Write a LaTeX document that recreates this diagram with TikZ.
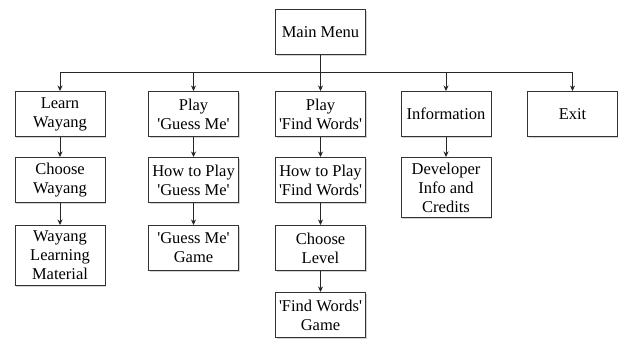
\documentclass[tikz,border=0pt]{standalone}
\usepackage{fontspec}
\setmainfont{Liberation Serif}
\newfontfamily\boxfont{Liberation Serif}
\usetikzlibrary{arrows.meta,shadows}
\newcommand{\sq}{\textquotesingle}
\begin{document}
\begin{tikzpicture}[x=1pt,y=1pt,
  box/.style={draw=black!80, line width=0.9pt, fill=white, minimum width=90pt, minimum height=45pt,
    align=center, inner sep=1pt, anchor=north,
    font=\boxfont\fontsize{16.5}{19}\selectfont,
    drop shadow={shadow xshift=1.2pt, shadow yshift=-1.2pt, opacity=0.35, fill=black!50}},
  tall/.style={minimum height=60pt},
  conn/.style={draw=black!85, line width=0.8pt},
  arr/.style={conn, -{Stealth[length=5.5pt,width=5pt]}}]
\useasboundingbox (0,0) rectangle (618,-339);
% top
\node[box] (mm) at (320.5,-9) {Main Menu};
% row 1
\node[box] (learn) at (60,-91) {Learn\\Wayang};
\node[box] (pgm) at (193.5,-91) {Play\\\sq Guess Me\sq};
\node[box] (pfw) at (320.5,-91) {Play\\\sq Find Words\sq};
\node[box] (info) at (446,-91) {Information};
\node[box] (exit) at (572.5,-91) {Exit};
% row 2
\node[box] (cw) at (60,-157) {Choose\\Wayang};
\node[box] (htgm) at (193.5,-157) {How to Play\\\sq Guess Me\sq};
\node[box] (htfw) at (320.5,-157) {How to Play\\\sq Find Words\sq};
\node[box,tall] (dev) at (446,-157) {Developer\\Info and\\Credits};
% row 3
\node[box,tall] (wlm) at (60,-225) {Wayang\\Learning\\Material};
\node[box] (gmg) at (193.5,-225) {\sq Guess Me\sq\\Game};
\node[box] (cl) at (320.5,-225) {Choose\\Level};
% row 4
\node[box] (fwg) at (320.5,-292) {\sq Find Words\sq\\Game};
% bus
\coordinate (bus) at (320.5,-72);
\coordinate (busL) at (learn.north |- bus);
\coordinate (busR) at (exit.north |- bus);
\draw[conn] (busL) -- (busR);
\draw[arr] (mm.south) -- (pfw.north);
\draw[arr] (busL) -- (learn.north);
\draw[arr] (pgm.north |- bus) -- (pgm.north);
\draw[arr] (info.north |- bus) -- (info.north);
\draw[arr] (busR) -- (exit.north);
% columns
\draw[arr] (learn) -- (cw);
\draw[arr] (cw) -- (wlm);
\draw[arr] (pgm) -- (htgm);
\draw[arr] (htgm) -- (gmg);
\draw[arr] (pfw) -- (htfw);
\draw[arr] (htfw) -- (cl);
\draw[arr] (cl) -- (fwg);
\draw[arr] (info) -- (dev);
\end{tikzpicture}
\end{document}
